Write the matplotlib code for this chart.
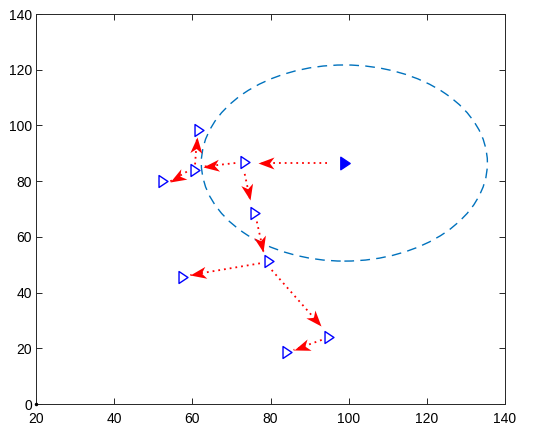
import numpy as np
import matplotlib
matplotlib.use("Agg")
import matplotlib.pyplot as plt
from matplotlib.patches import Ellipse
from matplotlib.path import Path
from matplotlib.markers import MarkerStyle
from matplotlib.transforms import Affine2D

plt.rcParams['font.family'] = ['Liberation Sans', 'DejaVu Sans']

# ---- data ----
source_x, source_y = 99.0, 86.5
node_x = [73.6, 60.7, 61.8, 52.6, 76.1, 79.7, 57.6, 95.0, 84.2]
node_y = [86.7, 84.0, 98.4, 80.1, 68.7, 51.5, 45.7, 24.2, 18.8]

arrow_x0 = [94.4, 71.0, 60.7, 58.6, 73.4, 76.5, 77.3, 80.3, 93.1]
arrow_y0 = [86.5, 86.5, 86.0, 83.4, 82.6, 65.5, 50.5, 48.1, 23.0]
arrow_x1 = [76.7, 62.7, 61.2, 54.2, 74.8, 78.2, 59.5, 92.9, 85.9]
arrow_y1 = [86.5, 85.2, 96.0, 79.8, 73.3, 54.7, 46.3, 28.1, 19.4]

circle_center = (98.9, 86.5)
circle_w, circle_h = 73.2, 70.4

xticks = [20, 40, 60, 80, 100, 120, 140]
yticks = [0, 20, 40, 60, 80, 100, 120, 140]

# ---- figure ----
fig = plt.figure(figsize=(5.5, 4.34), dpi=100)
ax = fig.add_axes([36/550, 30/434, 469/550, 390/434])
ax.set_xlim(20, 140)
ax.set_ylim(0, 140)
ax.set_xticks(xticks)
ax.set_yticks(yticks)

axcol = (0.15, 0.15, 0.15)
for s in ax.spines.values():
    s.set_color(axcol)
    s.set_linewidth(0.7)
ax.tick_params(direction='in', length=4, width=0.7, colors=axcol,
               labelsize=10, top=True, right=True)
ax.tick_params(axis='x', pad=6)
ax.tick_params(axis='y', pad=3)
for lbl in ax.get_xticklabels() + ax.get_yticklabels():
    lbl.set_color('black')

# dashed circle
ell = Ellipse(circle_center, circle_w, circle_h, fill=False,
              edgecolor=(0, 0.447, 0.741), linewidth=1.0,
              linestyle=(0, (7, 4.5)), zorder=2)
ax.add_patch(ell)

# triangle marker (narrow, MATLAB-like)
tri = Path([(-0.75, 1.0), (0.75, 0.0), (-0.75, -1.0), (-0.75, 1.0)],
           [Path.MOVETO, Path.LINETO, Path.LINETO, Path.CLOSEPOLY])

# arrows
L, W, N = 16.0, 12.0, 4.5
head = Path([(0, 0), (-L, W/2), (-L + N, 0), (-L, -W/2), (0, 0)],
            [Path.MOVETO, Path.LINETO, Path.LINETO, Path.LINETO, Path.CLOSEPOLY])
head_ms = 2 * L * 72 / 100.0

for x0, y0, x1, y1 in zip(arrow_x0, arrow_y0, arrow_x1, arrow_y1):
    ax.plot([x0, x1], [y0, y1], color='red', linewidth=1.3,
            linestyle=(0, (1, 2.2)), zorder=3)
    p0 = ax.transData.transform((x0, y0))
    p1 = ax.transData.transform((x1, y1))
    ang = np.degrees(np.arctan2(p1[1] - p0[1], p1[0] - p0[0]))
    m = MarkerStyle(head, transform=Affine2D().rotate_deg(ang))
    ax.plot([x1], [y1], marker=m, markersize=head_ms, color='red',
            markeredgewidth=0, linestyle='none', zorder=4)

# nodes
ax.plot(node_x, node_y, linestyle='none', marker=tri, markersize=8.6,
        markerfacecolor='none', markeredgecolor='blue', markeredgewidth=1.0,
        zorder=5)
ax.plot([source_x], [source_y], linestyle='none', marker=tri, markersize=9.0,
        markerfacecolor='blue', markeredgecolor='blue', markeredgewidth=1.0,
        zorder=5)

ax.plot([20], [0], marker='.', markersize=3, color='black', clip_on=False, zorder=6)

fig.savefig('out.png', dpi=100)
